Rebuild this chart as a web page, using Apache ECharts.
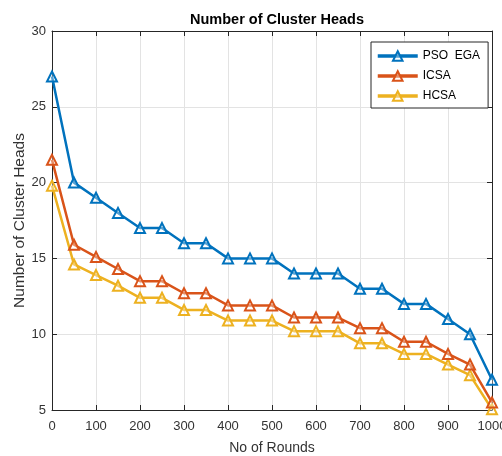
<!DOCTYPE html>
<html>
<head>
<meta charset="utf-8">
<script src="https://cdn.jsdelivr.net/npm/echarts@6/dist/echarts.min.js"></script>
<style>
  html, body { margin: 0; padding: 0; background: #fff; }
  #chart { width: 502px; height: 456px; }
</style>
</head>
<body>
<div id="chart"></div>
<script>
// Rounds at which the cluster-head count was sampled
const rounds = [0, 50, 100, 150, 200, 250, 300, 350, 400, 450, 500,
                550, 600, 650, 700, 750, 800, 850, 900, 950, 1000];

// Cluster heads per protocol
const psoEga = [27, 20, 19, 18, 17, 17, 16, 16, 15, 15, 15,
                14, 14, 14, 13, 13, 12, 12, 11, 10, 7];
const icsa   = [21.5, 15.9, 15.1, 14.3, 13.5, 13.5, 12.7, 12.7, 11.9, 11.9, 11.9,
                11.1, 11.1, 11.1, 10.4, 10.4, 9.5, 9.5, 8.7, 8.0, 5.5];
const hcsa   = [19.8, 14.6, 13.9, 13.2, 12.4, 12.4, 11.6, 11.6, 10.9, 10.9, 10.9,
                10.2, 10.2, 10.2, 9.4, 9.4, 8.7, 8.7, 8.0, 7.3, 5.05];

const seriesNames = ['PSO  EGA', 'ICSA', 'HCSA'];
const seriesColors = ['#0072BD', '#D95319', '#EDB120'];
const seriesValues = [psoEga, icsa, hcsa];

const xTicks = { min: 0, max: 1000, interval: 100 };
const yTicks = { min: 5, max: 30, interval: 5 };

const font = 'Liberation Sans, Arial, sans-serif';
const textColor = '#333333';

const chart = echarts.init(document.getElementById('chart'), null, { renderer: 'canvas' });

const axisCommon = {
  axisLine: { show: true, onZero: false, lineStyle: { color: '#262626', width: 1 } },
  axisTick: { show: true, inside: true, length: 5, lineStyle: { color: '#262626' } },
  splitLine: { show: true, lineStyle: { color: '#e3e3e3', width: 1 } },
  axisLabel: { color: textColor, fontFamily: font, fontSize: 13, formatter: v => String(v) }
};

chart.setOption({
  animation: false,
  backgroundColor: '#fff',
  title: {
    text: 'Number of Cluster Heads',
    left: 272, top: 7, textAlign: 'center',
    textStyle: { fontFamily: font, fontSize: 14.5, fontWeight: 'bold', color: '#000' }
  },
  grid: { left: 52, right: 10, top: 31, bottom: 46, containLabel: false, outerBoundsMode: 'none' },
  legend: {
    orient: 'vertical',
    left: 371, top: 42,
    itemWidth: 40, itemHeight: 12, itemGap: 8,
    padding: [8, 8, 6, 5],
    borderColor: '#262626', borderWidth: 1,
    backgroundColor: '#fff',
    lineStyle: { width: 3.5 },
    textStyle: { fontFamily: font, fontSize: 12, color: '#000' },
    data: seriesNames
  },
  xAxis: [
    Object.assign({}, axisCommon, {
      type: 'value', position: 'bottom',
      min: xTicks.min, max: xTicks.max, interval: xTicks.interval,
      name: 'No of Rounds', nameLocation: 'middle', nameGap: 31,
      nameTextStyle: { fontFamily: font, fontSize: 14, color: textColor },
      axisLabel: Object.assign({}, axisCommon.axisLabel, { margin: 10 })
    }),
    {
      type: 'value', position: 'top',
      min: xTicks.min, max: xTicks.max, interval: xTicks.interval,
      axisLine: axisCommon.axisLine, axisTick: axisCommon.axisTick,
      axisLabel: { show: false }, splitLine: { show: false }
    }
  ],
  yAxis: [
    Object.assign({}, axisCommon, {
      type: 'value', position: 'left',
      min: yTicks.min, max: yTicks.max, interval: yTicks.interval,
      name: 'Number of Cluster Heads', nameLocation: 'middle', nameGap: 24,
      nameMoveOverlap: false,
      nameTextStyle: { fontFamily: font, fontSize: 15.5, color: textColor },
      axisLabel: Object.assign({}, axisCommon.axisLabel, { margin: 6 })
    }),
    {
      type: 'value', position: 'right',
      min: yTicks.min, max: yTicks.max, interval: yTicks.interval,
      axisLine: axisCommon.axisLine, axisTick: axisCommon.axisTick,
      axisLabel: { show: false }, splitLine: { show: false }
    }
  ],
  series: seriesNames.map((name, i) => ({
    name: name,
    type: 'line',
    xAxisIndex: 0, yAxisIndex: 0,
    data: rounds.map((r, k) => [r, seriesValues[i][k]]),
    symbol: 'triangle',
    symbolSize: 10,
    showAllSymbol: true,
    lineStyle: { color: seriesColors[i], width: 2.5 },
    itemStyle: { color: 'rgba(255,255,255,0.35)', borderColor: seriesColors[i], borderWidth: 2 },
    z: 10 - i
  }))
});
</script>
</body>
</html>
